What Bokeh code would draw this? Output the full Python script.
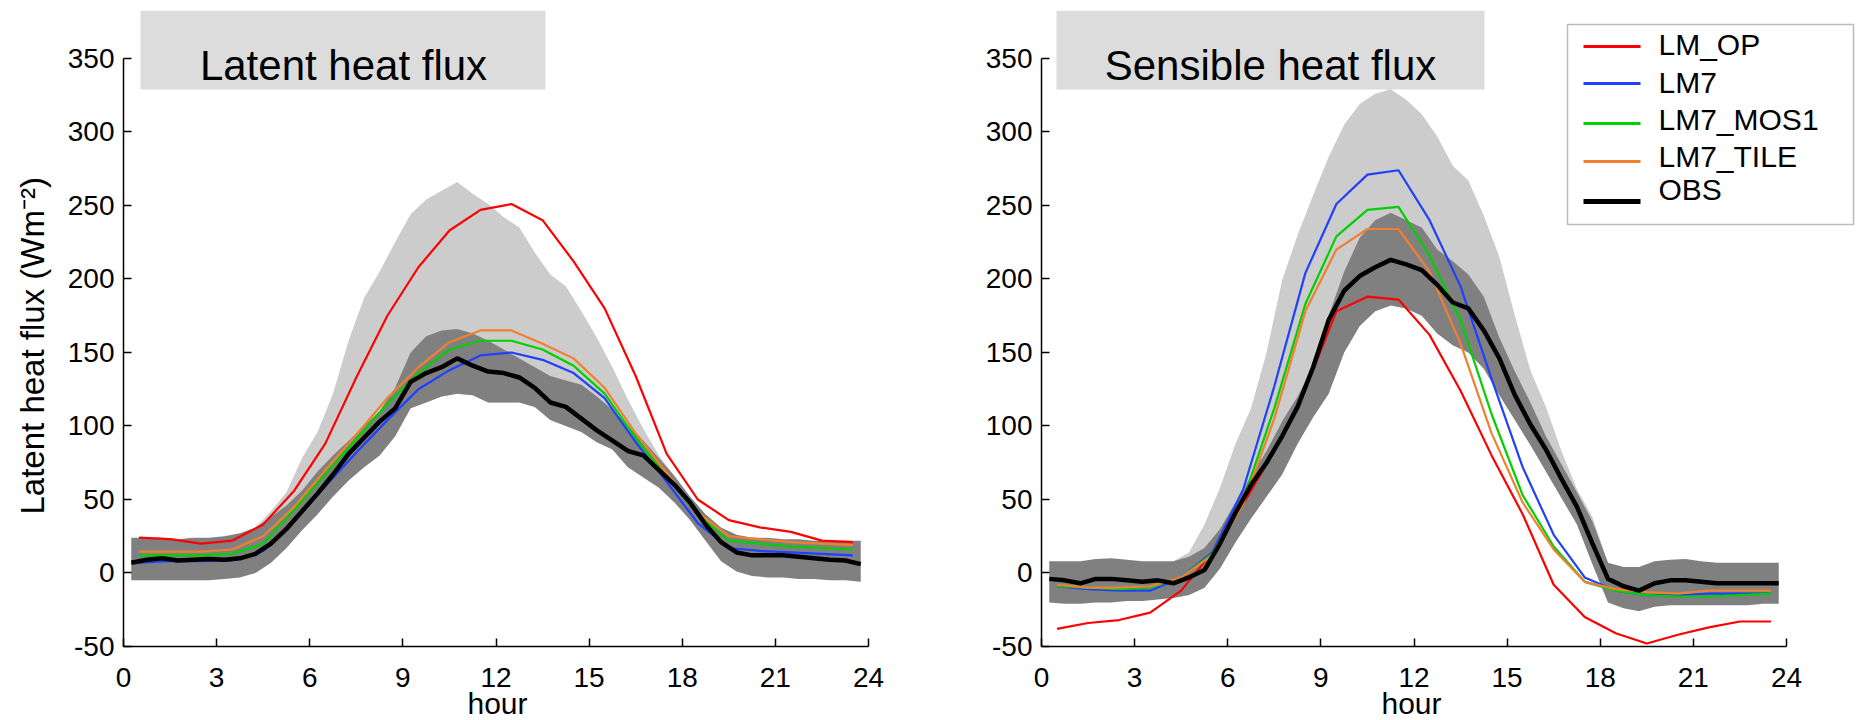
from bokeh.plotting import figure
from bokeh.models import Range1d, FixedTicker, Label, BoxAnnotation, Title
from bokeh.layouts import row
from bokeh.embed import file_html
from bokeh.resources import INLINE

# ---------------- data ----------------
hours_model = [0.5, 1.5, 2.5, 3.5, 4.5, 5.5, 6.5, 7.5, 8.5, 9.5, 10.5, 11.5,
               12.5, 13.5, 14.5, 15.5, 16.5, 17.5, 18.5, 19.5, 20.5, 21.5, 22.5, 23.5]
hours_obs = [0.25, 0.75, 1.25, 1.75, 2.25, 2.75, 3.25, 3.75, 4.25, 4.75, 5.25, 5.75,
             6.25, 6.75, 7.25, 7.75, 8.25, 8.75, 9.25, 9.75, 10.25, 10.75, 11.25, 11.75,
             12.25, 12.75, 13.25, 13.75, 14.25, 14.75, 15.25, 15.75, 16.25, 16.75, 17.25, 17.75,
             18.25, 18.75, 19.25, 19.75, 20.25, 20.75, 21.25, 21.75, 22.25, 22.75, 23.25, 23.75]
series_names = ["LM_OP", "LM7", "LM7_MOS1", "LM7_TILE", "OBS"]
series_colors = ["#ff0000", "#2040ff", "#00d000", "#f08030", "#000000"]

# Latent heat flux (W m-2)
lh_op = [24, 23, 20, 22, 33, 56, 88, 133, 175, 208, 233, 247, 251, 240, 212, 180, 134, 81, 50, 36, 31, 28, 22, 21]
lh_lm7 = [7, 8, 8, 8.5, 15, 36, 59, 82, 104, 125, 138, 148, 150, 145, 136, 119, 89, 62, 34, 17, 15, 14, 13, 12]
lh_mos1 = [12, 12, 12, 13, 20, 43, 67, 91, 115, 136, 152, 158, 158, 152, 141, 122, 92, 65, 40, 22, 20, 18, 17, 16]
lh_tile = [14.5, 14.5, 14.5, 16, 25, 45, 70, 94, 119, 140, 157, 165, 165, 156, 146, 126, 95, 68, 41, 25, 23, 21, 20, 19]
lh_obs = [7, 9, 10, 8.5, 9, 9.5, 9, 10, 13, 20, 30, 42, 54, 67, 81, 92,
          103, 112, 130, 136, 140, 146, 141, 137, 136, 133, 126, 116, 113, 105, 97, 90,
          83, 80, 70, 60, 48, 33, 21, 14, 12, 12, 12, 11, 10, 9, 8.5, 6]
lh_dark_hi = [24, 24, 24, 23, 24, 24, 25, 27, 31, 38, 46, 56, 69, 80, 90, 100,
              110, 126, 150, 161, 165, 166, 163, 158, 152, 146, 140, 134, 131, 128, 120, 111,
              100, 90, 78, 66, 52, 40, 31, 26, 24, 24, 23, 23, 22, 22, 22, 22]
lh_dark_lo = [-5, -5, -5, -5, -5, -5, -4, -3, 0, 7, 17, 29, 40, 52, 63, 72,
              80, 93, 112, 116, 120, 122, 121, 116, 116, 116, 113, 104, 100, 96, 89, 84,
              72, 65, 58, 48, 36, 22, 8, 1, -2, -3, -3, -4, -4, -5, -5, -6]
lh_light_first = 8   # light band covers hours_obs[8:36]
lh_light_hi = [31, 42, 55, 78, 96, 122, 158, 187, 205, 225, 244, 254, 260, 266, 258, 251,
               242, 235, 218, 203, 195, 178, 160, 140, 118, 98, 80, 66]

# Sensible heat flux (W m-2)
sh_op = [-38, -34, -32, -27, -12, 14, 47, 83, 125, 178, 188, 186, 162, 124, 80, 40, -8, -30, -41, -48, -42, -37, -33, -33]
sh_lm7 = [-9, -11, -12, -12, -3, 14, 57, 127, 204, 251, 271, 274, 240, 195, 132, 72, 26, -3, -12, -15, -15, -14, -14, -14]
sh_mos1 = [-9, -10, -11, -10, -3, 13, 50, 112, 183, 229, 247, 249, 216, 172, 108, 53, 18, -6, -12, -15, -16, -16, -15, -14]
sh_tile = [-8, -10, -10, -9, -3, 12, 47, 105, 178, 220, 234, 234, 205, 156, 95, 48, 16, -6, -11, -13, -14, -12, -12, -12]
sh_obs = [-4, -5, -7, -4, -4, -5, -6, -5, -7, -3, 2, 20, 41, 60, 75, 93,
          113, 140, 172, 192, 202, 208, 213, 210, 206, 196, 184, 180, 165, 146, 121, 101,
          84, 64, 45, 20, -4, -9, -12, -7, -5, -5, -6, -7, -7, -7, -7, -7]
sh_dark_hi = [8, 8, 8, 9.5, 10, 9, 8, 8, 8, 11, 17, 30, 48, 66, 83, 103,
              120, 140, 175, 205, 228, 240, 245, 240, 235, 220, 212, 203, 188, 160, 137, 116,
              93, 74, 55, 35, 7, 4, 4, 8, 9, 9.5, 8, 7, 7, 7, 7, 7]
sh_dark_lo = [-20, -21, -21, -20, -20, -19, -19, -18, -17, -15, -10, 3, 21, 37, 52, 67,
              88, 106, 122, 150, 168, 178, 182, 180, 175, 163, 155, 150, 139, 121, 104, 87,
              69, 51, 33, 6, -20, -24, -26, -23, -22, -22, -22, -22, -22, -22, -21, -21]
sh_light_first = 8   # light band covers hours_obs[8:37]
sh_light_hi = [8, 14, 33, 58, 88, 112, 150, 199, 230, 257, 283, 305, 319, 326, 329, 322,
               312, 297, 277, 267, 243, 215, 175, 138, 113, 83, 57, 38, 7]

x_ticks = [0, 3, 6, 9, 12, 15, 18, 21, 24]
y_ticks = [-50, 0, 50, 100, 150, 200, 250, 300, 350]

FONT = "Liberation Sans"
Y_TOP = 382.65          # frame top value (room for the title box)
FIG_H = 720
FRAME_TOP, FRAME_BOTTOM = 10, 646
PXH = 745 / 24.0        # pixels per hour
PX_PER_UNIT = (FRAME_BOTTOM - FRAME_TOP) / (Y_TOP + 50)


def yval(py):
    # pixel row -> data value (frame bottom = -50)
    return -50 + (FRAME_BOTTOM - py) / PX_PER_UNIT


def xval(px, zero_px):
    return (px - zero_px) / PXH


def make_panel(width, border_left, border_right, models, obs,
               dark_lo, dark_hi, light_first, light_hi, hour_offset):
    x_end = (width - border_left - border_right) / PXH
    p = figure(width=width, height=FIG_H, output_backend="svg", toolbar_location=None,
               x_range=Range1d(0, x_end), y_range=Range1d(-50, Y_TOP),
               min_border_left=border_left, min_border_right=border_right,
               min_border_top=FRAME_TOP, min_border_bottom=FIG_H - FRAME_BOTTOM)
    p.outline_line_color = None
    p.xgrid.visible = False
    p.ygrid.visible = False
    p.background_fill_color = "white"
    p.border_fill_color = "white"

    for ax, ticks, bounds, standoff in ((p.xaxis[0], x_ticks, (0, 24), 21),
                                        (p.yaxis[0], y_ticks, (-50, 350), 9)):
        ax.ticker = FixedTicker(ticks=ticks)
        ax.bounds = bounds
        ax.minor_tick_line_color = None
        ax.major_tick_in = 8
        ax.major_tick_out = 0
        ax.major_tick_line_color = "black"
        ax.major_tick_line_width = 1.5
        ax.axis_line_color = "black"
        ax.axis_line_width = 1.5
        ax.major_label_text_font = FONT
        ax.major_label_text_font_size = "28px"
        ax.major_label_text_color = "black"
        ax.major_label_standoff = standoff
    p.yaxis[0].major_label_overrides = {-50: "-50"}

    # x label "hour" centred under hour 12
    p.add_layout(Title(text="hour", align="left", offset=hour_offset, vertical_align="bottom",
                       standoff=-10, text_font=FONT, text_font_size="30px",
                       text_font_style="normal", text_color="black"), "below")

    # bands
    n_light = len(light_hi)
    lx = hours_obs[light_first:light_first + n_light]
    llo = dark_lo[light_first:light_first + n_light]
    p.varea(x=lx, y1=llo, y2=light_hi, fill_color="#cccccc")
    p.varea(x=hours_obs, y1=dark_lo, y2=dark_hi, fill_color="#808080")

    for vals, color in zip(models, series_colors[:4]):
        p.line(hours_model, vals, line_color=color, line_width=2.2)
    p.line(hours_obs, obs, line_color="black", line_width=4.5)
    return p


# -------- left panel (latent) --------
X0_L = 123  # pixel column of hour 0 (left figure starts at 0)
p1 = make_panel(940, X0_L, 69, [lh_op, lh_lm7, lh_mos1, lh_tile], lh_obs,
                lh_dark_lo, lh_dark_hi, lh_light_first, lh_light_hi, hour_offset=344)
p1.add_layout(Title(text="Latent heat flux (Wm\u207b\u00b2)", align="left", offset=132,
                    vertical_align="top", standoff=23, text_font=FONT, text_font_size="33px",
                    text_font_style="normal", text_color="black"), "left")
p1.add_layout(BoxAnnotation(left=xval(140, X0_L), right=xval(545, X0_L),
                            bottom=yval(89), top=Y_TOP, fill_color="#dcdcdc", fill_alpha=1,
                            line_color=None, level="underlay"))
p1.add_layout(Label(x=xval(343, X0_L), y=yval(65), text="Latent heat flux",
                    text_font=FONT, text_font_size="42px", text_align="center",
                    text_baseline="alphabetic", text_color="black"))

# -------- right panel (sensible) --------
R_LEFT = 940
X0_R = 1041  # pixel column of hour 0 in the page
p2 = make_panel(932, X0_R - R_LEFT, 14, [sh_op, sh_lm7, sh_mos1, sh_tile], sh_obs,
                sh_dark_lo, sh_dark_hi, sh_light_first, sh_light_hi, hour_offset=340)
p2.add_layout(BoxAnnotation(left=xval(1056, X0_R), right=xval(1484, X0_R),
                            bottom=yval(89), top=Y_TOP, fill_color="#dcdcdc", fill_alpha=1,
                            line_color=None, level="underlay"))
p2.add_layout(Label(x=xval(1270, X0_R), y=yval(65), text="Sensible heat flux",
                    text_font=FONT, text_font_size="42px", text_align="center",
                    text_baseline="alphabetic", text_color="black"))

# legend (manual, MATLAB style)
p2.add_layout(BoxAnnotation(left=xval(1567, X0_R), right=xval(1853, X0_R),
                            bottom=yval(224), top=yval(24), fill_color="white", fill_alpha=1,
                            line_color="#222222", line_width=1.5, level="annotation"))
line_ys = [46, 83, 123, 161, 201]
text_ys = [44, 82, 119, 156, 189]
for name, color, ly, ty in zip(series_names, series_colors, line_ys, text_ys):
    lw = 5 if name == "OBS" else 3
    p2.segment(x0=[xval(1583, X0_R)], y0=[yval(ly)], x1=[xval(1640, X0_R)], y1=[yval(ly)],
               line_color=color, line_width=lw, level="overlay")
    p2.add_layout(Label(x=xval(1658, X0_R), y=yval(ty), text=name, text_font=FONT,
                        text_font_size="30px", text_align="left", text_baseline="middle",
                        text_color="black", level="overlay"))

layout = row(p1, p2)
open("out.html", "w").write(file_html(layout, INLINE))
